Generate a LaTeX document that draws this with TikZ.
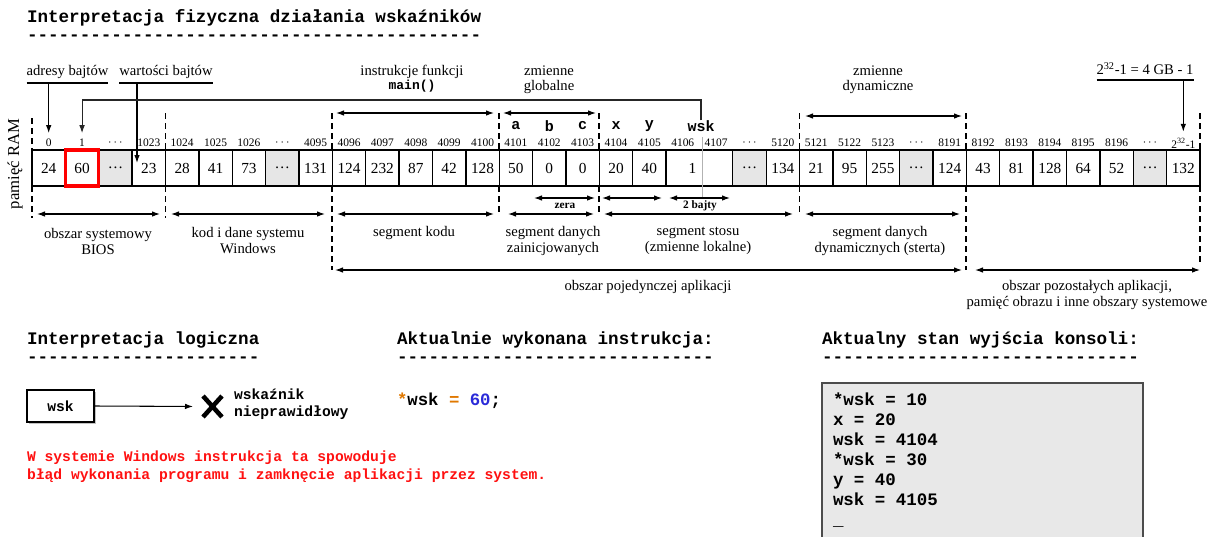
\documentclass[tikz,border=0pt]{standalone}
\usepackage{fontspec}
\setmainfont{Liberation Serif}
\setmonofont{Liberation Mono}
\usetikzlibrary{arrows.meta,shadows}
\definecolor{gapgray}{HTML}{E6E6E6}
\definecolor{consolegray}{HTML}{E8E8E8}
\definecolor{kwd}{HTML}{E07800}
\definecolor{num}{HTML}{2A2AD8}
\definecolor{errred}{HTML}{FF1010}
\newcount\dashcnt
\newcommand\dashrow[1]{\dashcnt=0 \loop-{}\advance\dashcnt by 1 \ifnum\dashcnt<#1\repeat}
\newcommand\cw{33.3714}

\begin{document}
\begin{tikzpicture}[x=0.75pt,y=-0.75pt,
  every node/.style={inner sep=0pt,outer sep=0pt},
  heading/.style={anchor=west,font=\ttfamily\bfseries\fontsize{13.2}{16}\selectfont},
  cell/.style={draw,line width=1pt,minimum width=25.03pt,minimum height=27pt,font=\fontsize{11.5}{13}\selectfont},
  gapcell/.style={cell,fill=gapgray},
  addr/.style={font=\fontsize{8.6}{10}\selectfont,outer ysep=4.5pt},
  varname/.style={font=\ttfamily\bfseries\fontsize{11.25}{13}\selectfont},
  areadesc/.style={align=center,font=\fontsize{11}{12}\selectfont},
  segsep/.style={line width=1.4pt,dash pattern=on 4.5pt off 3pt},
  dimarrow/.style={{Latex[length=6pt,width=4.2pt]}-{Latex[length=6pt,width=4.2pt]},line width=0.9pt},
  pointer/.style={-{Latex[length=6pt,width=4.2pt]},line width=0.9pt},
  bytenote/.style={font=\bfseries\fontsize{8.5}{10}\selectfont},
  mono/.style={font=\ttfamily\bfseries\fontsize{11}{12.75}\selectfont},
]
\useasboundingbox (0,0) rectangle (1210,536);

% ---------- header ----------
\node[heading] (h1) at (27,18) {Interpretacja fizyczna działania wskaźników};
\node[heading] (h1rule) at (27,38) {\dashrow{43}};

% ---------- memory cells ----------
\foreach \i/\v in {0/24,1/60,3/23,4/28,5/41,6/73,8/131,9/124,10/232,11/87,12/42,13/128,14/50,15/0,16/0,17/20,18/40,22/134,23/21,24/95,25/255,27/124,28/43,29/81,30/128,31/64,32/52,34/132}
  \node[cell] (c\i) at ({32+(\i+0.5)*\cw},168) {\v};
\foreach \i in {2,7,21,26,33}
  \node[gapcell] (c\i) at ({32+(\i+0.5)*\cw},168) {\dots};
% two-byte cell holding the pointer value
\node[cell,minimum width=50.06pt] (c19) at ({32+20*\cw},168) {};
\node[font=\fontsize{11.5}{13}\selectfont] (c19val) at (692.5,168) {1};
\draw[black!30,line width=0.9pt] (702.5,137) -- (702.5,198);
\draw[red,line width=2.6pt] (c1.south west) rectangle (c1.north east);

% ---------- addresses ----------
\foreach \i/\a in {0/0,1/1,2/$\cdots$,3/1023,4/1024,5/1025,6/1026,7/$\cdots$,8/4095,9/4096,10/4097,11/4098,12/4099,13/4100,14/4101,15/4102,16/4103,17/4104,18/4105,19/4106,20/4107,21/$\cdots$,22/5120,23/5121,24/5122,25/5123,26/$\cdots$,27/8191,28/8192,29/8193,30/8194,31/8195,32/8196,33/$\cdots$,34/2\textsuperscript{32}-1}
  \node[addr] (a\i) at ({32+(\i+0.5)*\cw},143) {\a};

% ---------- variable names ----------
\foreach \i/\n in {14/a,15/b,16/c,17/x,18/y}
  \node[varname] (v\n) at ({32+(\i+0.5)*\cw},126) {\n};
\node[varname] (vwsk) at (701,126) {wsk};

% ---------- segment boundaries ----------
\foreach \k/\t/\b in {0/118/218,4/113/218,9/113/270,14/113/215,17/113/215,23/113/215,28/113/270,35/113/265} {
  \draw[segsep] ({32+\k*\cw},\t) -- ({32+\k*\cw},150);
  \draw[segsep] ({32+\k*\cw},186) -- ({32+\k*\cw},\b);
}

% ---------- extents ----------
\draw[dimarrow] (336,113) -- (494,113);
\draw[dimarrow] (503,113) -- (596,113);
\draw[dimarrow] (805,116) -- (962,116);

\draw[dimarrow] (534,198) -- (595,198);
\draw[dimarrow] (602,198) -- (662,198);
\draw[dimarrow] (669,198) -- (730,198);

\draw[dimarrow] (37,214) -- (160,214);
\draw[dimarrow] (171,214) -- (325,214);
\draw[dimarrow] (337,214) -- (494,214);
\draw[dimarrow] (508,214) -- (594,214);
\draw[dimarrow] (604,214) -- (793,214);
\draw[dimarrow] (805,214) -- (960,214);

\draw[dimarrow] (335,270) -- (962,270);
\draw[dimarrow] (975,270) -- (1200,270);

% ---------- labels above ----------
\node[areadesc,font=\fontsize{11}{10.5}\selectfont] (lmain) at (412,79) {instrukcje funkcji\\{\ttfamily\bfseries\fontsize{9.75}{10.5}\selectfont main()}};
\node[areadesc,font=\fontsize{11}{11.5}\selectfont] (lglob) at (549,80) {zmienne\\globalne};
\node[areadesc,font=\fontsize{11}{11.5}\selectfont] (ldyn) at (878,80) {zmienne\\dynamiczne};

\node[anchor=south,minimum width=60.75pt,inner ysep=3pt,font=\fontsize{11}{12}\selectfont] (ladr) at (67.5,83) {adresy bajtów};
\draw[line width=0.8pt] (ladr.south west) -- (ladr.south east);
\draw[pointer] (ladr.south -| a0) -- (a0.north);

\node[anchor=south,minimum width=69pt,inner ysep=3pt,font=\fontsize{11}{12}\selectfont] (lval) at (166,83) {wartości bajtów};
\draw[line width=0.8pt] (lval.south west) -- (lval.south east);
\coordinate (valtip) at (137,163);
\draw[pointer] (lval.south -| valtip) -- (valtip);

\node[anchor=south,minimum width=72pt,inner ysep=4pt,font=\fontsize{11}{12}\selectfont] (lmax) at (1145,80) {2\textsuperscript{32}-1 = 4 GB - 1};
\draw[line width=0.8pt] (lmax.south west) -- (lmax.south east);
\draw[pointer] (lmax.south -| a34) -- (a34.north);

\coordinate (bend) at (701,100);
\draw[pointer,line width=0.8pt,black!85] (vwsk.north) -- (vwsk.north |- bend) -| (a1.north);

\node[rotate=90,font=\fontsize{12.5}{14}\selectfont] (lram) at (15,164) {pamięć RAM};

% ---------- labels below ----------
\node[bytenote] (lzera) at (565,206) {zera};
\node[bytenote] (ltwo) at (700,206) {2 bajty};

\node[areadesc] (lbios) at (98,241) {obszar systemowy\\BIOS};
\node[areadesc] (lwin) at (248,241) {kod i dane systemu\\Windows};
\node[areadesc] (lcode) at (414,233) {segment kodu};
\node[areadesc] (ldata) at (553,241) {segment danych\\zainicjowanych};
\node[areadesc] (lstack) at (698,241) {segment stosu\\(zmienne lokalne)};
\node[areadesc] (lheap) at (880,241) {segment danych\\dynamicznych (sterta)};
\node[areadesc] (lapp) at (648,287) {obszar pojedynczej aplikacji};
\node[areadesc] (lrest) at (1087,295) {obszar pozostałych aplikacji,\\pamięć obrazu i inne obszary systemowe};

% ---------- lower panels ----------
\node[heading] (h2) at (27,340) {Interpretacja logiczna};
\node[heading] (h2rule) at (27,360) {\dashrow{22}};
\node[heading] (h3) at (397,340) {Aktualnie wykonana instrukcja:};
\node[heading] (h3rule) at (397,360) {\dashrow{30}};
\node[heading] (h4) at (822,340) {Aktualny stan wyjścia konsoli:};
\node[heading] (h4rule) at (822,360) {\dashrow{30}};

\node[draw,line width=1pt,fill=white,minimum width=50.25pt,minimum height=23.8pt,mono,
  drop shadow={shadow xshift=1.3pt,shadow yshift=-1.3pt,fill=black!40,opacity=.6}] (wskbox) at (60.5,406) {wsk};
\node[minimum width=14.25pt,minimum height=15.75pt] (xmark) at (212.5,406.5) {};
\draw[line width=3.4pt] (xmark.north west) -- (xmark.south east) (xmark.north east) -- (xmark.south west);
\draw[pointer,line width=0.8pt,shorten >=7.5pt] (wskbox.east) -- (xmark.west);
\node[mono,anchor=west,align=left] (lbad) at (234,404.5) {wskaźnik\\nieprawidłowy};

\node[anchor=west,font=\ttfamily\bfseries\fontsize{13}{15}\selectfont] (instr) at (397,401) {\textcolor{kwd}{*}wsk \textcolor{kwd}{=} \textcolor{num}{60};};

\node[mono,font=\ttfamily\bfseries\fontsize{11}{13.5}\selectfont,anchor=west,align=left,text=errred] (lerr) at (27,467) {W systemie Windows instrukcja ta spowoduje\\błąd wykonania programu i zamknęcie aplikacji przez system.};

\node[draw=black!70,line width=1pt,fill=consolegray,anchor=north west,minimum width=240.75pt,minimum height=135pt] (console) at (822,383) {};
\node[anchor=north west,align=left,font=\ttfamily\bfseries\fontsize{13.1}{15}\selectfont] (out) at (833,393) {*wsk = 10\\x = 20\\wsk = 4104\\{}*wsk = 30\\y = 40\\wsk = 4105\\\_};
\end{tikzpicture}
\end{document}
